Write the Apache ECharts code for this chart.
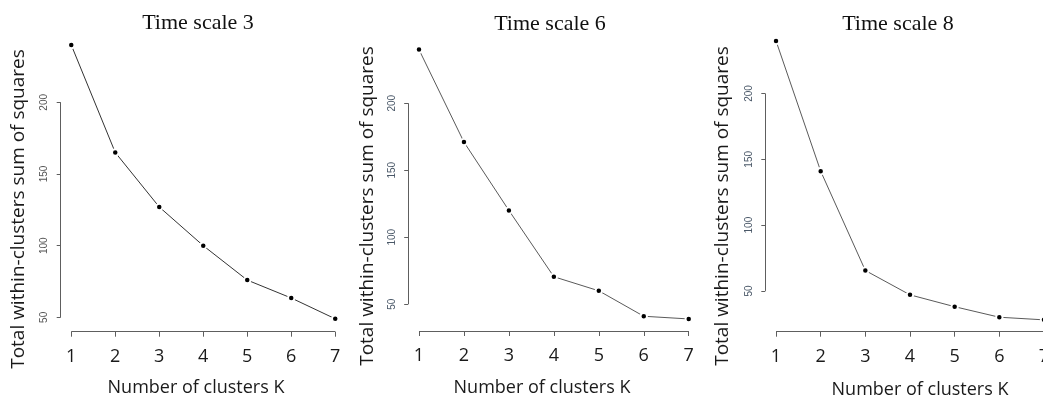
<!DOCTYPE html>
<html>
<head>
<meta charset="utf-8">
<script src="https://cdn.jsdelivr.net/npm/echarts/dist/echarts.min.js"></script>
<style>
  html, body { margin: 0; padding: 0; background: #fff; overflow: hidden; }
  /* the third panel runs past the right edge of the frame */
  #chart { width: 1060px; height: 398px; }
</style>
</head>
<body>
<div id="chart"></div>
<script>
// Elbow curves: total within-cluster sum of squares against number of clusters K
const kValues = [1, 2, 3, 4, 5, 6, 7];
const wssScale3 = [240, 165, 127, 100, 76, 63.5, 49];
const wssScale6 = [240, 171, 120, 70.5, 60, 41, 39];
const wssScale8 = [240, 141, 65.5, 47, 38, 30, 28];
const yTicks = [50, 100, 150, 200];
const xTicks = [1, 2, 3, 4, 5, 6, 7];
const panelTitles = ['Time scale 3', 'Time scale 6', 'Time scale 8'];
const xAxisTitle = 'Number of clusters K';
const yAxisTitle = 'Total within-clusters sum of squares';

// Per-panel layout (pixels) and axis ranges
const panels = [
  { values: wssScale3, left: 60.7, top: 33.5, width: 285.1, height: 298.2, yMin: 40, yMax: 248,
    lineColor: '#333', tickLabelColor: '#555',
    titleX: 198, titleY: 23, xNameX: 196, xNameY: 388, yNameX: 18.5, yNameY: 209 },
  { values: wssScale6, left: 408.2, top: 38.9, width: 291.3, height: 292.1, yMin: 30, yMax: 248,
    lineColor: '#5a5a5a', tickLabelColor: '#4a5868',
    titleX: 550, titleY: 24, xNameX: 542, xNameY: 388, yNameX: 368, yNameY: 206 },
  { values: wssScale8, left: 765.3, top: 29.7, width: 289.4, height: 302, yMin: 19, yMax: 248.5,
    lineColor: '#5a5a5a', tickLabelColor: '#4a5868',
    titleX: 898, titleY: 24, xNameX: 920, xNameY: 389.5, yNameX: 723, yNameY: 206 }
];
const xMin = 0.76, xMax = 7.24;
const axisColor = '#5e5e5e';
const sansFont = '"Open Sans", "Noto Sans", sans-serif';

const grid = [], xAxis = [], yAxis = [], series = [], graphic = [];

panels.forEach((p, i) => {
  grid.push({ left: p.left, top: p.top, width: p.width, height: p.height, containLabel: false });

  xAxis.push({
    type: 'value', gridIndex: i, min: xMin, max: xMax,
    axisLine: { show: false, onZero: false },
    splitLine: { show: false },
    axisTick: { show: true, customValues: xTicks, length: 5, lineStyle: { color: axisColor, width: 1 } },
    axisLabel: { customValues: xTicks, margin: 16, fontFamily: sansFont, fontSize: 18, color: '#1a1a1a' }
  });

  yAxis.push({
    type: 'value', gridIndex: i, min: p.yMin, max: p.yMax,
    axisLine: { show: false, onZero: false },
    splitLine: { show: false },
    axisTick: { show: true, customValues: yTicks, length: 4, lineStyle: { color: axisColor, width: 1 } },
    axisLabel: { customValues: yTicks, rotate: 90, margin: 11, fontFamily: '"Liberation Sans", Arial, sans-serif',
                 fontSize: 10, color: p.tickLabelColor }
  });

  series.push({
    type: 'line', xAxisIndex: i, yAxisIndex: i,
    data: kValues.map((k, j) => [k, p.values[j]]),
    symbol: 'circle', symbolSize: 6.4,
    itemStyle: { color: '#000', borderColor: '#fff', borderWidth: 1.9 },
    lineStyle: { color: p.lineColor, width: 1 },
    silent: true, animation: false, clip: false,
    markLine: {
      silent: true, animation: false, symbol: ['none', 'none'],
      label: { show: false },
      lineStyle: { color: axisColor, width: 1, type: 'solid' },
      emphasis: { disabled: true },
      data: [
        [{ coord: [xTicks[0], p.yMin] }, { coord: [xTicks[xTicks.length - 1], p.yMin] }],
        [{ coord: [xMin, yTicks[0]] }, { coord: [xMin, yTicks[yTicks.length - 1]] }]
      ]
    }
  });

  graphic.push({
    type: 'text', x: p.titleX, y: p.titleY, silent: true,
    style: { text: panelTitles[i], font: '22px "Liberation Serif", "Times New Roman", serif',
             fill: '#111', textAlign: 'center', textVerticalAlign: 'middle' }
  });
  graphic.push({
    type: 'text', x: p.xNameX, y: p.xNameY, silent: true,
    style: { text: xAxisTitle, font: '18px ' + sansFont,
             fill: '#1a1a1a', textAlign: 'center', textVerticalAlign: 'middle' }
  });
  graphic.push({
    type: 'text', x: p.yNameX, y: p.yNameY, rotation: Math.PI / 2, silent: true,
    style: { text: yAxisTitle, font: '19px ' + sansFont,
             fill: '#1a1a1a', textAlign: 'center', textVerticalAlign: 'middle' }
  });
});

const chart = echarts.init(document.getElementById('chart'), null, { renderer: 'canvas' });
chart.setOption({
  animation: false,
  backgroundColor: '#fff',
  grid, xAxis, yAxis, series, graphic
});
</script>
</body>
</html>
